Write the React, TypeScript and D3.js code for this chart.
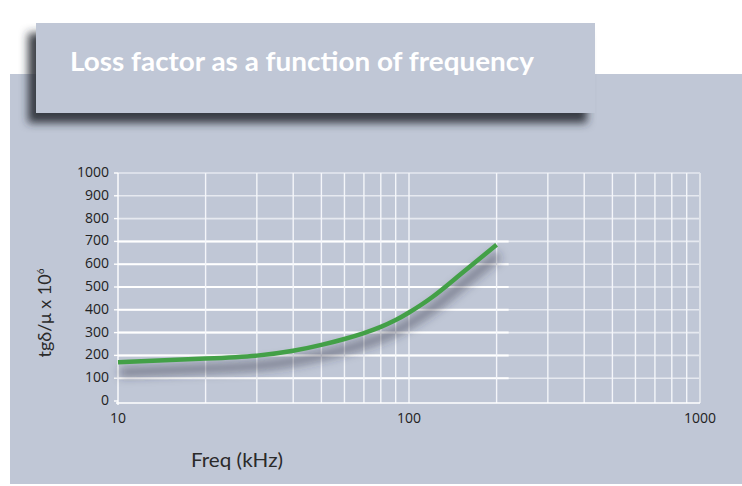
import React from 'react';
import * as d3 from 'd3';

// Loss factor curve (kHz -> tgδ/μ x 10^6)
const freqs = [10, 20, 30, 40, 50, 60, 70, 80, 90, 100, 120, 150, 200];
const lossValues = [170, 186, 199, 220, 246, 272, 298, 325, 355, 388, 455, 555, 685];

const yTicks = [0, 100, 200, 300, 400, 500, 600, 700, 800, 900, 1000];
const xLabels = [10, 100, 1000];
const xGrid = [20, 30, 40, 50, 60, 70, 80, 90, 100, 200, 300, 400, 500, 600, 700, 800, 900];
const brightRows = [100, 200, 300, 400, 500, 600, 700];

const W = 742;
const H = 486;
const bg = '#c0c7d6';

export default function App() {
  const x = d3.scaleLog().domain([10, 1000]).range([118, 700]);
  const y = d3.scaleLinear().domain([0, 1000]).range([401, 173]);

  const line = d3.line<number>()
    .x((_, i) => x(freqs[i]))
    .y(d => y(d))
    .curve(d3.curveNatural);
  const path = line(lossValues) || '';

  const font = 'Lato, "Open Sans", sans-serif';

  return (
    <svg width={W} height={H} style={{ position: 'absolute', left: 0, top: 0, background: '#fff' }}>
      <defs>
        <filter id="boxShadow" x="-10%" y="-30%" width="120%" height="170%">
          <feDropShadow dx="-8" dy="10" stdDeviation="4" floodColor="#2a2d36" floodOpacity="0.9" />
        </filter>
        <filter id="curveShadow" x="-20%" y="-40%" width="140%" height="180%">
          <feGaussianBlur stdDeviation="5" />
        </filter>
      </defs>

      {/* main panel */}
      <rect x={10} y={74} width={W - 10} height={410} fill={bg} />

      {/* grid */}
      <g>
        {yTicks.slice(1).map(v => (
          <line key={'h' + v} x1={x(10)} x2={x(1000)} y1={y(v)} y2={y(v)}
            stroke="#e6e9f0" strokeWidth={1.6} />
        ))}
        {brightRows.map(v => (
          <line key={'hb' + v} x1={x(10)} x2={x(220)} y1={y(v)} y2={y(v)}
            stroke="#ffffff" strokeWidth={2} />
        ))}
        {xGrid.map(f => (
          <line key={'v' + f} x1={x(f)} x2={x(f)} y1={y(1000)} y2={y(0) + 2}
            stroke="#f4f6fa" strokeWidth={1.4} />
        ))}
        <line x1={x(1000)} x2={x(1000)} y1={y(1000)} y2={y(0) + 2} stroke="#dfe3ea" strokeWidth={2} />
        {/* axes */}
        <line x1={x(10)} x2={x(10)} y1={y(1000)} y2={y(0) + 4} stroke="#ffffff" strokeWidth={1.4} />
        <line x1={x(10) - 2} x2={x(1000)} y1={y(0) + 2} y2={y(0) + 2} stroke="#ffffff" strokeWidth={1.6} />
        {yTicks.map(v => (
          <line key={'t' + v} x1={x(10) - 4} x2={x(10)} y1={y(v)} y2={y(v)} stroke="#ffffff" strokeWidth={1.4} />
        ))}
      </g>

      {/* curve with soft shadow */}
      <path d={path} fill="none" stroke="#2b2f3d" strokeOpacity={0.45} strokeWidth={10}
        transform="translate(2,10)" filter="url(#curveShadow)" />
      <path d={path} fill="none" stroke="#43a047" strokeWidth={4.5} />

      {/* tick labels */}
      <g fontFamily='"Open Sans", sans-serif' fontSize={14} fill="#222">
        {yTicks.map(v => (
          <text key={'yl' + v} x={109} y={y(v) - 1} dy="0.35em" textAnchor="end">{v}</text>
        ))}
        {xLabels.map(f => (
          <text key={'xl' + f} x={x(f)} y={423} textAnchor="middle">{f}</text>
        ))}
      </g>

      {/* axis titles */}
      <text x={191} y={467} fontFamily={font} fontSize={19} fill="#2a2a2a"
        textLength={92} lengthAdjust="spacingAndGlyphs">Freq (kHz)</text>
      <text transform="translate(51,313) rotate(-90)" textAnchor="middle" fontFamily={font}
        fontSize={18} fill="#2a2a2a">
        tgδ/μ x 10<tspan dy="-7" fontSize={10}>6</tspan>
      </text>

      {/* title box */}
      <rect x={36} y={23} width={559} height={90} fill={bg} filter="url(#boxShadow)" />
      <text x={70} y={71} fontFamily={font} fontWeight={700} fontSize={26} fill="#ffffff"
        textLength={464} lengthAdjust="spacingAndGlyphs">
        Loss factor as a function of frequency
      </text>
    </svg>
  );
}
